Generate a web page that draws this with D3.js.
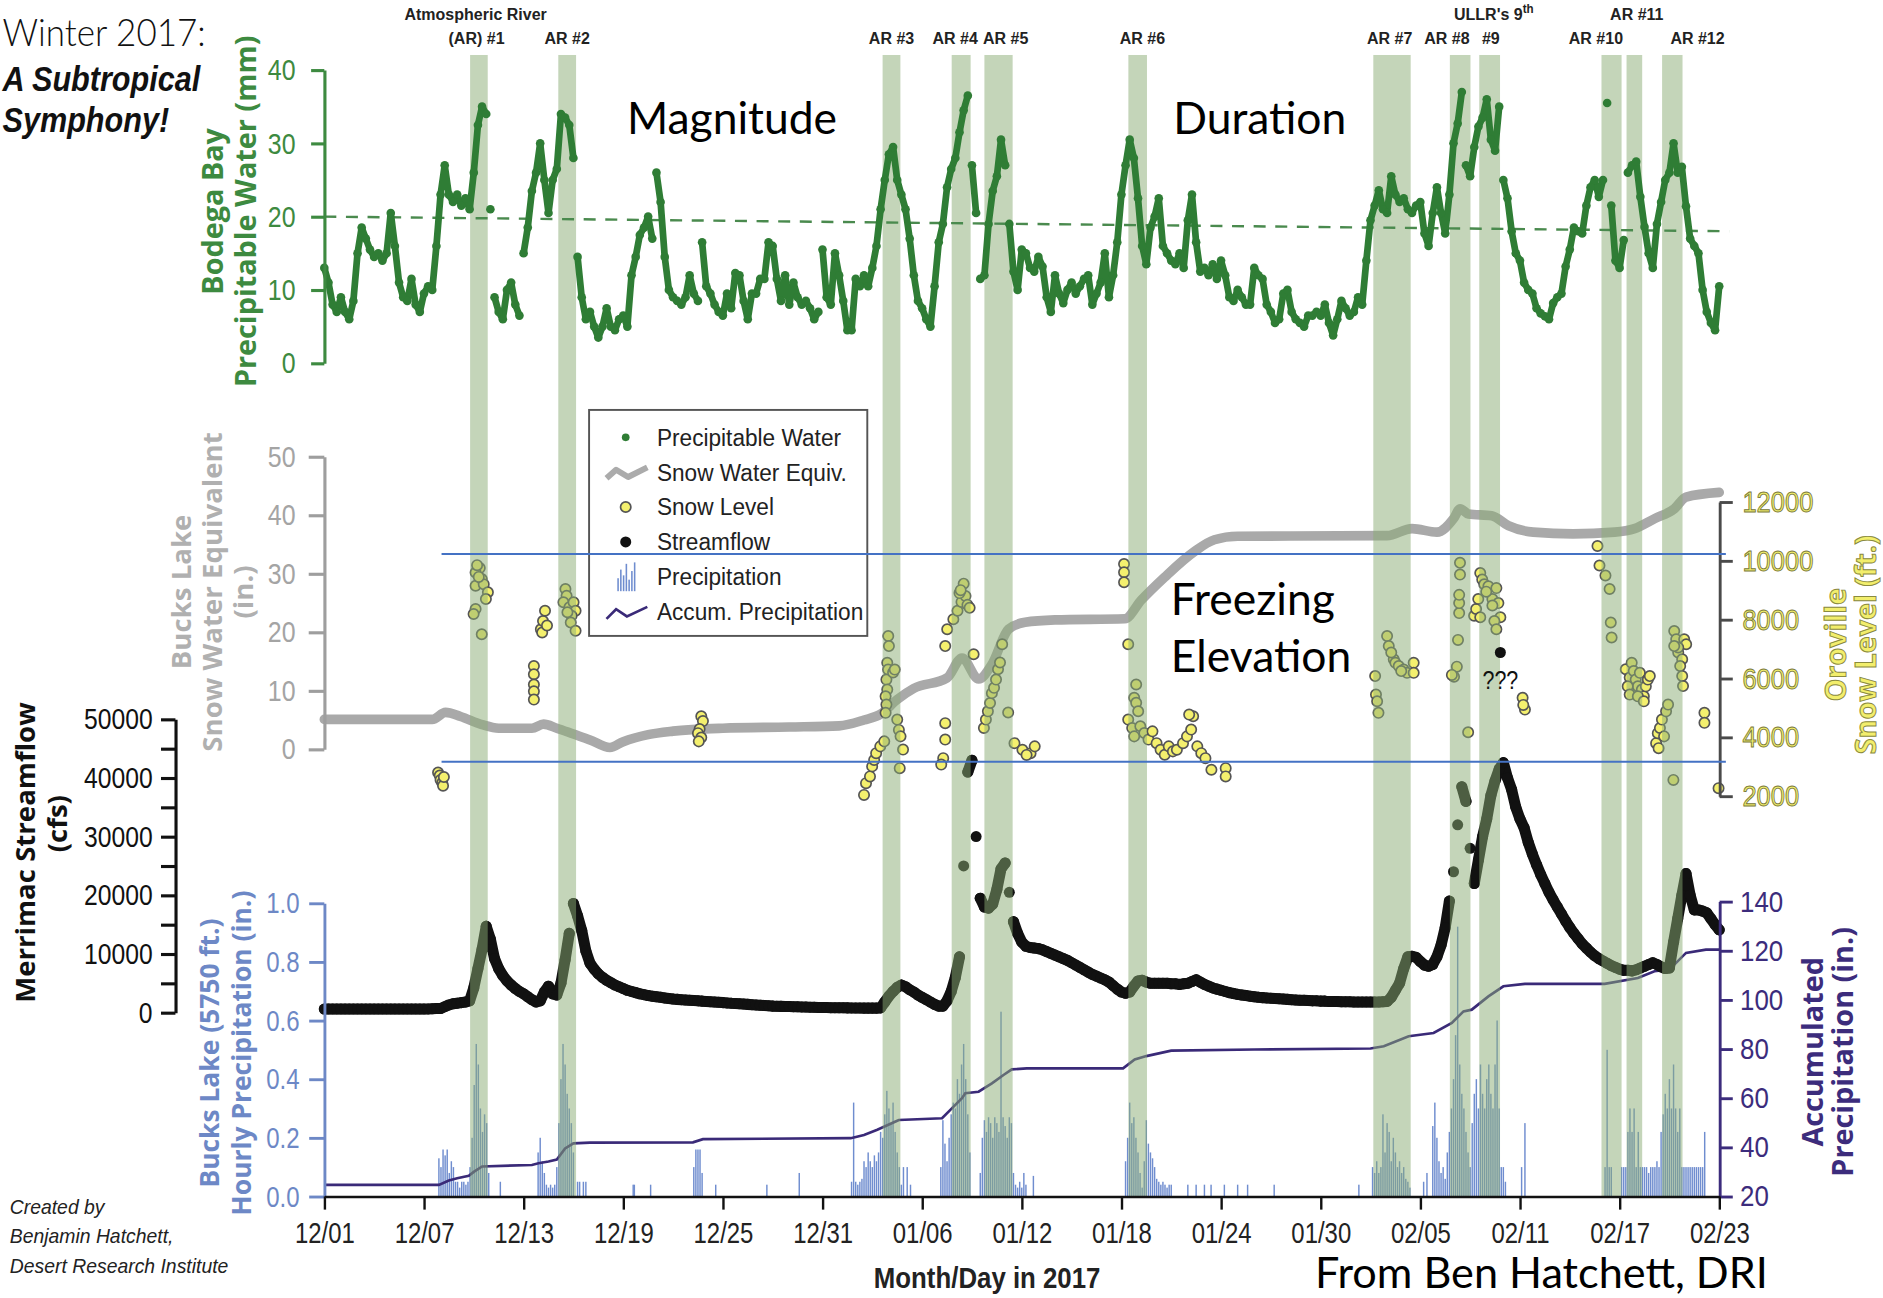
<!DOCTYPE html>
<html>
<head>
<meta charset="utf-8">
<script src="https://cdn.jsdelivr.net/npm/d3@7"></script>
<style>
  html, body { margin: 0; padding: 0; background: #fff; }
  svg { display: block; }
</style>
</head>
<body>
<svg id="chart" width="1883" height="1298" viewBox="0 0 1568 1081"></svg>
<script>
// ================= DATA =================
// x-axis tick labels (month/day, winter 2016-17)
const tickLabels = ["12/01","12/07","12/13","12/19","12/25","12/31","01/06","01/12",
                    "01/18","01/24","01/30","02/05","02/11","02/17","02/23"];

// Atmospheric river periods, in days since 12/01 00:00
const arNames  = ["(AR) #1","AR #2","AR #3","AR #4","AR #5","AR #6","AR #7","AR #8","#9","AR #10","AR #11","AR #12"];
const arStart  = [8.78, 14.09, 33.62, 37.78, 39.75, 48.42, 63.17, 67.78, 69.55, 76.91, 78.42, 80.56];
const arEnd    = [9.84, 15.16, 34.69, 38.92, 41.45, 49.54, 65.42, 69.02, 70.80, 78.12, 79.36, 81.79];

// Bodega Bay precipitable water (mm), 6-hourly from 12/01 00:00
const pwStepHours = 6;
const pwMm = [
  13,11,8,7,        9,7,6,8.5,        15,18.5,17,15.5,  14.5,15,14,15,
  20.5,16,11,9,     8.5,11.5,8,7,     9.5,10.5,10,16,   23,27,23,22,
  23,21.5,22.5,21,  26,32.5,35,34,    21,9,7,6,         10,11,8,6.5,
  15,18.5,23.5,26,  30,25,20.5,25,    26.5,34,33.5,32.5,28,14.5,9,6,
  7,5,3.5,5,        7.5,5,4.5,6,      6.5,5,12,14.5,    17.5,18.5,20,17,
  26,22,14.5,10,    9,8.5,8,9,        12,9.5,8.5,16.5,  10.5,9.5,8,7,
  6.5,9.5,7.5,12.3, 12,8.5,6,9.5,     9.5,11.5,11.5,16.5,16,11.5,8.5,12,
  8,11,9,8,         8.5,7.5,6,7,      15.5,9,8,15,      12,8.5,4.5,4.5,
  11.5,10.5,12,10.5,13,16,21,25,      28.5,29.5,25,23,  21,17,12,8.5,
  7.5,6,5,10.5,     16.5,19,24,26.5,  28,31.5,34.5,36.5,27,20.5,11.5,12,
  19,23.5,25.5,30.5,27,19,12.5,10,    15.5,15,13,12.5,  14.5,13.2,9,7,
  12,9.5,8.2,10,    11,9.5,10.5,11.5, 12,8,9.5,11,      15,9,12,16.5,
  23,27,30.5,28,    22.5,16,13.5,18.5,20,22.5,16,15,    14,13.5,15,13,
  19.5,23,16.5,12.5,13,12,13.5,11.5,  14,12,9,8.5,      10,9,8,8,
  13,12,11.5,8,     7,5.5,6,9.5,      10,7,6,5.5,       5,6.5,6.5,7,
  6.5,8,5.5,3.8,    6,8.5,7.5,6.5,    7,9,8,14,         19.5,21.5,23.6,21,
  20.5,25.5,23,22,  22.5,21,20.5,21.5,22,17.7,16,20.5,  24,20.5,17.7,23,
  30,32.7,37,27,    25.5,29.5,32.3,33.5,36,30.5,29,35,  25,22.5,18,15,
  14,11,10,9.5,     7.5,6.8,6.4,6,    8.2,9,9.5,13.2,   15.5,18.5,18,17.7,
  21.5,24,25,22.7,  25,35.5,21.5,14,  13,16.8,26,27,    27.5,22.7,18.6,15,
  13,19,22,25,      26,30,26,26.8,    21.4,17,16,15,    10,7,5.5,4.5,
  10.5
];
// linear trend of precipitable water [day, mm]
const pwTrend = [[0, 20.0], [84.6, 18.0]];

// Bucks Lake snow water equivalent (in.), [day, inches]
const sweIn = [
  [0,5.1],[6.5,5.1],[7.3,6.3],[8.2,5.6],[9.5,4.2],[10.5,3.6],[12.5,3.6],[13.2,4.3],[14,3.6],
  [15,2.6],[16,1.6],[17.2,0.3],[18,1.3],[19.5,2.5],[21,3.1],[24,3.6],[28,3.8],[31,4.0],
  [32.5,5.0],[33.5,6.0],[34.5,8.5],[35.5,10.4],[37.5,12.2],[38.4,15.6],[39.4,12.0],[40.2,14.5],
  [41.2,20.5],[42.2,21.7],[44,22.1],[48.2,22.3],[49.2,25.5],[50.6,29.4],[52.4,33.8],[53.6,35.8],
  [55,36.4],[64,36.5],[65.5,37.7],[67,37.1],[68,39.4],[68.4,41.1],[68.9,40.2],[70.3,39.9],
  [71.3,38.2],[72.8,37.1],[75.2,36.8],[77.7,37.1],[78.9,37.7],[80.1,39.4],[81.3,41.1],
  [82,43.1],[84,43.9]
];

// Oroville snow level (ft), [day, feet]
const snowLevelFt = [
  [6.85,2800],[6.95,2700],[7.0,2550],[7.1,2450],[7.15,2350],[7.2,2650],
  [9.36,9750],[9.11,9600],[9.11,9150],[9.48,9380],[9.6,9200],[9.85,8930],[9.73,8700],
  [9.11,8360],[8.99,8190],[9.48,7500],[9.3,9450],[9.2,9850],
  [12.62,6420],[12.62,6140],[12.62,5790],[12.62,5560],[12.62,5280],
  [13.04,7670],[13.17,7950],[13.29,8300],[13.12,7560],[13.41,7800],
  [14.52,9040],[14.59,8810],[14.4,8590],[14.76,8420],[15.01,8590],[15.13,8300],
  [14.89,8130],[14.84,7900],[15.13,7620],[14.64,8250],
  [22.7,4710],[22.8,4550],[22.6,4280],[22.5,4140],[22.7,3990],[22.55,3860],
  [32.5,2040],[32.62,2440],[32.86,2670],[32.99,3010],[33.11,3230],[33.23,3460],[33.48,3690],[33.72,3860],
  [33.96,7440],[34.0,7100],[33.9,6530],[33.95,6300],[33.85,5960],[33.9,5620],[33.8,5390],[33.85,5110],
  [33.8,4830],[34.25,6200],[34.35,6300],
  [34.5,4600],[34.6,4250],[34.7,4030],[34.85,3580],[34.65,2950],
  [37.39,7100],[37.51,7670],[37.88,8010],[38.13,8300],[38.37,8600],[38.5,9220],[38.61,8800],
  [38.73,8500],[38.86,8400],[38.25,8900],[38.32,9000],
  [37.39,4480],[37.39,3920],[37.27,3290],[37.15,3070],[39.1,6820],
  [39.72,4315],[39.84,4600],[39.96,4880],[40.09,5165],[40.2,5500],[40.33,5680],[40.45,5960],
  [40.57,6310],[40.69,6540],[40.82,7160],[41.18,4840],
  [41.56,3800],[42.04,3575],[42.53,3460],[42.78,3690],[42.29,3400],
  [48.16,9890],[48.16,9610],[48.16,9270],[48.41,7160],
  [48.89,5795],[48.77,5340],[48.89,5170],[49.01,4885],[48.41,4600],[48.65,4315],[48.77,4030],
  [49.14,4375],[49.38,4145],[49.63,3920],[49.87,4200],[50.12,3800],[50.36,3575],[50.61,3405],
  [50.85,3690],[51.1,3520],[51.34,3575],[51.71,3800],[51.95,4030],[52.2,4260],[52.32,4715],
  [52.08,4770],[52.57,3690],[52.81,3460],[53.06,3290],[53.42,2895],[54.28,2950],[54.28,2670],
  [63.28,6080],[63.33,5455],[63.4,5225],[63.48,4830],[64.0,7440],[64.1,7100],[64.4,6650],
  [64.5,6530],[64.7,6420],[65.0,6300],[65.2,6190],[65.6,6530],[65.6,6190],[64.25,6880],[64.85,6250],
  [68.03,6060],[68.2,6400],[68.27,7310],[68.34,8220],[68.34,8560],[68.34,8840],[68.39,9530],
  [68.39,9930],[68.88,4170],[67.9,6120],
  [69.24,8130],[69.36,8360],[69.49,8700],[69.61,9580],[69.73,9360],[69.85,9200],[70.1,9130],
  [69.61,8080],[70.34,8700],[70.58,9070],[70.7,8560],[70.82,8080],[70.46,7950],[70.58,7670],
  [70.34,8480],[69.97,8950],
  [72.16,5340],[72.3,4940],[72.2,5100],
  [76.67,10500],[76.79,9840],[77.15,9500],[77.4,9040],[77.47,7900],[77.52,7390],
  [78.37,6310],[78.61,6030],[78.73,6530],[78.85,6250],[78.97,5960],[79.1,5730],[79.22,6190],
  [79.34,5620],[79.46,5390],[79.58,5730],[79.7,5960],[79.82,6080],[78.49,5730],[78.61,5450],
  [79.1,5390],[79.46,5220],
  [80.2,3800],[80.3,4140],[80.43,4315],[80.55,4600],[80.8,4880],[80.92,5110],[80.68,4030],[80.35,3630],
  [81.29,7610],[81.41,7330],[81.89,7330],[82.01,7160],[81.53,6880],[81.77,6650],[81.65,6420],
  [81.77,6080],[81.82,5740],[81.53,7050],[81.29,7100],
  [81.24,2550],[83.11,4830],[83.11,4490],[83.96,2270]
];
// the unexplained reading marked "???" [day, feet]
const oddReading = [70.82, 6880];
// reference snow-level lines (ft) and the days they span
const refLevelsFt = [10230, 3170];
const refLevelSpan = [7.06, 84.4];

// Merrimac streamflow (cfs), 6-hourly from 12/01 00:00
const flowStepHours = 6;
const flowCfs = [
  600,600,600,600,  600,600,600,600,  600,600,600,600,  600,600,600,600,
  600,600,600,600,  600,600,600,600,  600,620,650,680,  700,1000,1300,1500,
  1600,1700,1800,2000, 4200,7500,10800,14700, 12500,9200,7500,6300, 5400,4700,4100,3600,
  3200,2700,2200,1800, 2000,3500,4500,3200, 3000,5000,9000,13500, 18600,16500,14000,10500,
  8400,7400,6600,6000, 5500,5100,4700,4400, 4100,3800,3600,3400, 3200,3050,2900,2800,
  2700,2600,2500,2400, 2300,2250,2200,2150, 2100,2050,2000,1950, 1900,1850,1800,1750,
  1700,1650,1600,1550, 1500,1450,1400,1350, 1300,1250,1200,1150, 1100,1080,1060,1040,
  1020,1000,980,960,   940,920,900,880,     860,850,840,830,     820,810,800,790,
  780,770,760,760,     760,760,800,1800,    2800,3600,4300,4700, 4400,3900,3500,3000,
  2600,2200,1800,1400, 1100,1100,2000,3600, 6000,9500,25000,41000, 43000,30000,19500,18000,
  17800,18500,21000,24500, 25500,20500,15500,13500, 12000,11300,11100,11000, 10900,10700,10400,10100,
  9800,9500,9200,8900, 8500,8100,7700,7300, 6900,6500,6200,5900, 5600,5200,4600,4000,
  3500,3300,3500,4500, 5400,5500,5200,5000, 5000,5000,5000,5000, 4900,4900,4800,4900,
  5000,5300,5600,5200, 4800,4500,4200,4000, 3800,3600,3400,3250, 3100,3000,2900,2800,
  2700,2600,2550,2500, 2450,2400,2350,2300, 2250,2200,2150,2100, 2100,2050,2000,2000,
  1950,1950,1900,1900, 1900,1850,1850,1850, 1800,1800,1800,1800, 1800,1800,1800,1850,
  1900,2600,3800,5000, 7500,9500,9600,9400, 8700,8100,7900,8200, 9500,11500,14500,19000,
  24000,32000,38500,36000, 28000,22000,26000,30000, 33000,37000,39500,41500, 42600,40000,38000,35000,
  33000,31500,29000,27000, 25200,23500,22000,20500, 19200,18000,16800,15600, 14500,13500,12600,11700,
  11000,10300,9700,9200, 8800,8400,8000,7700, 7400,7200,7200,7100, 7300,7600,7900,8200,
  8500,8200,7800,7500, 7600,12000,16000,20000, 23700,20000,17500,17500, 17300,17000,16000,15000,
  14100
];

// Bucks Lake hourly precipitation (in.): storm segments, 3-hourly values from a start day
const precipStepHours = 3;
const precipSegments = [
  { start: 6.9,   values: [0.13,0.10,0.16,0.14,0.16,0.08,0.12,0.10,0.05,0.05,0.03,0.05,0.05,0.04,0.05,
                           0.10,0.20,0.38,0.52,0.45,0.30,0.22,0.28,0.25,0.08] },
  { start: 12.875,values: [0.15,0.20,0.12,0.08,0.04,0.03,0.04,0.03,0.04,0.10,0.25,0.40,0.52,0.45,0.35,
                           0.30,0.25,0.15,0,0.05,0.05] },
  { start: 22.25, values: [0.10,0.16,0.16,0.16,0.08] },
  { start: 31.75, values: [0.05,0.32,0.05,0.04,0.05,0.06,0.12,0.10,0.15,0.12,0.10,0.14,0.12,0.15,0.22,
                           0.20,0.28,0.36,0.30,0.25,0.32,0.22,0.15,0.10,0.04,0.10] },
  { start: 37.125,values: [0.10,0.26,0.18,0.12,0.20,0.28,0.32,0.30,0.40,0.35,0.45,0.52,0.40,0.28,0.15] },
  { start: 39.5,  values: [0.08,0.20,0.26,0.22,0.27,0.25,0.20,0.27,0.25,0.22,0.63,0.27,0.24,0.20,0.27,
                           0.25,0.08,0.04,0.03,0.05,0.03,0.08,0.04] },
  { start: 48.25, values: [0.12,0.20,0.32,0.25,0.27,0.20,0.15,0.08,0.03,0.12,0.26,0.18,0.15,0.13,0.10,
                           0.06,0.05,0.04,0.05,0.04,0.03,0.04,0.04] },
  { start: 63.125,values: [0.10,0.08,0.12,0.08,0.10,0.28,0.15,0.25,0.22,0.12,0.20,0.15,0.10,0.12,0.08,
                           0.10,0.06,0.05,0.03] },
  { start: 66.75, values: [0.24,0.32,0.20,0.12,0.08,0.10,0.06,0.15,0.22,0.30,0.40,0.55,0.92,0.45,0.35,
                           0.30,0.22,0.15,0.10,0.25,0.35,0.40,0.30,0.45,0.35,0.30,0.40,0.45,0.35,0.30,
                           0.45,0.60,0.30,0.10,0.10,0.05] },
  { start: 77.125,values: [0.10,0.50,0.10,0.10,0,0,0,0,0.10,0.10,0.10,0.22,0.30,0.22,0.30,0.10,0.22,
                           0.10,0.10,0.10,0.10,0.08,0.10,0.10,0.10,0.12,0.10,0.22,0.28,0.35,0.30,0.40,
                           0.30,0.45,0.30,0.22,0.30,0.10,0.10,0.10,0.10,0.10,0.10,0.10,0.10,0.10,0.10,
                           0.10,0.22] }
];
// isolated light-rain hours [day, inches]
const precipSingles = [
  [10.6,0.05],[15.6,0.05],[15.75,0.05],[18.6,0.04],[18.67,0.04],[19.65,0.04],[23.57,0.04],
  [26.65,0.04],[28.6,0.08],[35.1,0.10],[35.3,0.04],[42.7,0.07],[52,0.04],[52.5,0.04],[53,0.04],
  [53.4,0.04],[54.2,0.04],[55,0.04],[55.6,0.04],[57.2,0.04],[62.3,0.04],[66.2,0.05],[66.4,0.08],
  [72.1,0.10],[72.3,0.25]
];

// Accumulated precipitation (in.), [day, inches]
const accumIn = [
  [0,24.7],[6.9,24.7],[7.5,26.5],[8.0,27.4],[8.7,28.4],[9.0,30],[9.5,32.2],[12.5,32.8],[12.9,33.5],
  [13.5,34.2],[14.0,35],[14.5,39.5],[15.0,41.6],[16,41.9],[22.2,42],[22.8,43.3],[31.7,43.7],
  [32.5,45],[33.3,47.1],[34.4,50.5],[34.6,51.1],[37.2,51.8],[37.7,55.2],[38.4,60],[38.6,62.0],
  [39.4,62.6],[40.2,66],[40.9,69.4],[41.4,71.7],[42.3,72.1],[48.1,72.1],[48.8,75.7],[49.5,77.1],
  [51,79.3],[56,79.8],[63.0,80.2],[63.8,81.1],[65.3,85.2],[66.8,86.5],[67.9,90.6],[68.6,95.3],
  [69.1,96.0],[70.1,101.4],[71.0,105.5],[72.3,106.5],[77.1,106.5],[79.1,108.9],[80.1,111.6],
  [81.0,112.3],[82.0,119.1],[83.2,120.4],[84,120.4]
];

// axis tick values
const pwTicks    = [0, 10, 20, 30, 40];
const sweTicks   = [0, 10, 20, 30, 40, 50];
const levelTicks = [2000, 4000, 6000, 8000, 10000, 12000];
const flowTicks  = [0, 5000, 10000, 15000, 20000, 25000, 30000, 35000, 40000, 45000, 50000];
const precipTicks= [0, 0.2, 0.4, 0.6, 0.8, 1.0];
const accumTicks = [20, 40, 60, 80, 100, 120, 140];

const legendLabels = ["Precipitable Water","Snow Water Equiv.","Snow Level","Streamflow","Precipitation","Accum. Precipitation"];

// ================= HELPERS =================
const DAY_MS = 864e5;
const T0 = Date.UTC(2016, 11, 1);
const dayToDate = d => new Date(T0 + d * DAY_MS);
const parseTick = s => {
  const [m, dd] = s.split("/").map(Number);
  return new Date(Date.UTC(m === 12 ? 2016 : 2017, m - 1, dd));
};
const tickDates = tickLabels.map(parseTick);

const ARIAL  = "'Liberation Sans',Arial,sans-serif";
const SANS   = "'Open Sans','Noto Sans','DejaVu Sans',sans-serif";
const HUMAN  = "Lato,'Open Sans',sans-serif";

// squeeze text horizontally around its anchor to mimic a condensed face
function condense(sel, k) {
  sel.each(function () {
    const t = d3.select(this);
    const tx = +t.attr("x") || 0;
    t.attr("x", 0).attr("transform", `translate(${tx},0) scale(${k},1)`);
  });
  return sel;
}

// ================= SCALES =================
const x      = d3.scaleUtc().domain([tickDates[0], tickDates[tickDates.length - 1]]).range([270, 1431.7]);
const yPW    = d3.scaleLinear().domain([0, 40]).range([302.5, 58.3]);
const ySWE   = d3.scaleLinear().domain([0, 50]).range([624, 380.3]);
const yLevel = d3.scaleLinear().domain([2000, 12000]).range([663, 418]);
const yFlow  = d3.scaleLinear().domain([0, 50000]).range([843.3, 599]);
const yPrec  = d3.scaleLinear().domain([0, 1]).range([996.4, 752.2]);
const yAccum = d3.scaleLinear().domain([20, 140]).range([996.4, 750.8]);

const svg = d3.select("#chart");
svg.append("rect").attr("width", 1568).attr("height", 1081).attr("fill", "#fff");

// joins neighbouring samples whose vertical step is small, so dense series read as a trace
function beadPath(pts, fx, fy, maxStep) {
  let d = "";
  for (let i = 1; i < pts.length; i++) {
    const x0 = fx(pts[i - 1]), y0 = fy(pts[i - 1]), x1 = fx(pts[i]), y1 = fy(pts[i]);
    if (Math.abs(y1 - y0) <= maxStep) d += `M${x0},${y0}L${x1},${y1}`;
  }
  return d;
}

// ================= PRECIPITATION BARS =================
const bars = [];
precipSegments.forEach(seg => seg.values.forEach((v, i) => {
  if (v > 0) bars.push({ t: dayToDate(seg.start + i * precipStepHours / 24), v });
}));
precipSingles.forEach(([d, v]) => bars.push({ t: dayToDate(d), v }));
svg.append("g").selectAll("rect").data(bars).join("rect")
  .attr("x", d => x(d.t) - 0.6).attr("width", 1.2)
  .attr("y", d => yPrec(d.v)).attr("height", d => yPrec(0) - yPrec(d.v))
  .attr("fill", "#6f8dcf");

// ================= ACCUMULATED PRECIPITATION =================
svg.append("path").datum(accumIn)
  .attr("d", d3.line().x(d => x(dayToDate(d[0]))).y(d => yAccum(d[1])))
  .attr("fill", "none").attr("stroke", "#3a2a78").attr("stroke-width", 2.2);

// ================= SNOW WATER EQUIVALENT =================
svg.append("path").datum(sweIn)
  .attr("d", d3.line().curve(d3.curveMonotoneX).x(d => x(dayToDate(d[0]))).y(d => ySWE(d[1])))
  .attr("fill", "none").attr("stroke", "#a9a9a9").attr("stroke-width", 8)
  .attr("stroke-linejoin", "round").attr("stroke-linecap", "round");

// ================= SNOW LEVEL =================
svg.append("g").selectAll("circle").data(snowLevelFt).join("circle")
  .attr("cx", d => x(dayToDate(d[0]))).attr("cy", d => yLevel(d[1])).attr("r", 4.3)
  .attr("fill", "#f4f06e").attr("stroke", "#555").attr("stroke-width", 1.4);

// ================= STREAMFLOW =================
const flowPts = flowCfs.map((v, i) => ({ t: new Date(T0 + i * flowStepHours * 3600e3), v }));
svg.append("path").attr("d", beadPath(flowPts, d => x(d.t), d => yFlow(d.v), 24))
  .attr("fill", "none").attr("stroke", "#111").attr("stroke-width", 9.2).attr("stroke-linecap", "round");
svg.append("g").selectAll("circle").data(flowPts).join("circle")
  .attr("cx", d => x(d.t)).attr("cy", d => yFlow(d.v)).attr("r", 4.6).attr("fill", "#111");

// ================= AR BANDS =================
const bandTop = 45.8;
svg.append("g").selectAll("rect").data(arStart.map((s, i) => ({ s, e: arEnd[i] }))).join("rect")
  .attr("x", d => x(dayToDate(d.s))).attr("width", d => x(dayToDate(d.e)) - x(dayToDate(d.s)))
  .attr("y", bandTop).attr("height", yPrec(0) - bandTop)
  .attr("fill", "rgb(138,172,116)").attr("fill-opacity", 0.5);

// ================= PRECIPITABLE WATER =================
svg.append("line")
  .attr("x1", x(dayToDate(pwTrend[0][0]))).attr("y1", yPW(pwTrend[0][1]))
  .attr("x2", x(dayToDate(pwTrend[1][0]))).attr("y2", yPW(pwTrend[1][1]))
  .attr("stroke", "#4a8a4e").attr("stroke-width", 2).attr("stroke-dasharray", "10 8");
const pwPts = pwMm.map((v, i) => ({ t: new Date(T0 + i * pwStepHours * 3600e3), v }));
svg.append("path").attr("d", beadPath(pwPts, d => x(d.t), d => yPW(d.v), 48))
  .attr("fill", "none").attr("stroke", "#2f7d35").attr("stroke-width", 5.6)
  .attr("stroke-linecap", "round").attr("stroke-linejoin", "round");
svg.append("g").selectAll("circle").data(pwPts).join("circle")
  .attr("cx", d => x(d.t)).attr("cy", d => yPW(d.v)).attr("r", 3.6).attr("fill", "#2f7d35");

// ================= AXES =================
function styleAxis(g, lineColor, textColor, size, width, squeeze) {
  g.attr("font-family", null).attr("font-size", null);
  g.select(".domain").attr("stroke", lineColor).attr("stroke-width", width);
  g.selectAll(".tick line").attr("stroke", lineColor).attr("stroke-width", width);
  const txt = g.selectAll(".tick text").attr("fill", textColor)
    .style("font-family", ARIAL).style("font-size", size + "px");
  condense(txt, squeeze || 0.83);
  return g;
}
// precipitable water
styleAxis(svg.append("g").attr("transform", "translate(270,0)")
  .call(d3.axisLeft(yPW).tickValues(pwTicks).tickSize(11).tickSizeOuter(0).tickPadding(13)),
  "#3d8a40", "#3d8a40", 25, 2.6);
// snow water equivalent
styleAxis(svg.append("g").attr("transform", "translate(270,0)")
  .call(d3.axisLeft(ySWE).tickValues(sweTicks).tickSize(13).tickSizeOuter(0).tickPadding(11)),
  "#9e9e9e", "#a4a4a4", 25, 2.6);
// snow level (right)
const gLevel = styleAxis(svg.append("g").attr("transform", "translate(1432,0)")
  .call(d3.axisRight(yLevel).tickValues(levelTicks).tickFormat(d3.format("d"))
    .tickSize(11).tickSizeOuter(0).tickPadding(8)),
  "#4a4a4a", "#f2ee6c", 25, 2.4, 0.85);
gLevel.selectAll(".tick text").attr("stroke", "#77773a").attr("stroke-width", 0.8);
// streamflow
styleAxis(svg.append("g").attr("transform", "translate(146,0)")
  .call(d3.axisLeft(yFlow).tickValues(flowTicks).tickFormat(d => d % 10000 === 0 ? d3.format("d")(d) : "")
    .tickSize(12).tickSizeOuter(0).tickPadding(7)),
  "#111", "#111", 24.5, 2.6, 0.84);
// hourly precipitation
styleAxis(svg.append("g").attr("transform", "translate(270,0)")
  .call(d3.axisLeft(yPrec).tickValues(precipTicks).tickFormat(d3.format(".1f"))
    .tickSize(12.6).tickSizeOuter(0).tickPadding(8)),
  "#6d88c6", "#6d88c6", 25, 2.4, 0.8);
// accumulated precipitation (right)
styleAxis(svg.append("g").attr("transform", "translate(1432,0)")
  .call(d3.axisRight(yAccum).tickValues(accumTicks).tickSize(11).tickSizeOuter(0).tickPadding(6)),
  "#3c2c7c", "#3c2c7c", 24.5, 2.4, 0.88);
// time axis
styleAxis(svg.append("g").attr("transform", `translate(0,${yPrec(0)})`)
  .call(d3.axisBottom(x).tickValues(tickDates).tickFormat((d, i) => tickLabels[i])
    .tickSize(11).tickSizeOuter(0).tickPadding(11)),
  "#111", "#222", 24, 2, 0.83);

// ================= AXIS TITLES =================
function vTitle(lines, cy, color, size, extra) {
  lines.forEach(([txt, bx]) => {
    const t = svg.append("text").attr("transform", `translate(${bx},${cy}) rotate(-90)`)
      .attr("text-anchor", "middle").attr("fill", color)
      .style("font-family", SANS).style("font-weight", "bold").style("font-size", size + "px")
      .text(txt);
    if (extra) extra(t);
  });
}
vTitle([["Bodega Bay", 186], ["Precipitable Water (mm)", 213]], 176, "#3d8a40", 24);
vTitle([["Bucks Lake", 159], ["Snow Water Equivalent", 185], ["(in.)", 211]], 493, "#b0b0b0", 23);
vTitle([["Oroville", 1537], ["Snow Level (ft.)", 1562]], 537, "#f2ee6c", 24,
  t => t.attr("stroke", "#8a8a40").attr("stroke-width", 0.8));
vTitle([["Merrimac Streamflow", 29]], 710, "#111", 23);
vTitle([["(cfs)", 56]], 686, "#111", 23);
vTitle([["Bucks Lake (5750 ft.)", 182], ["Hourly Precipitation (in.)", 209]], 877, "#6d88c6", 22);
vTitle([["Accumulated", 1518], ["Precipitation (in.)", 1543]], 876, "#3c2c7c", 24);

condense(svg.append("text").attr("x", 822).attr("y", 1073).attr("text-anchor", "middle")
  .attr("fill", "#222").style("font-family", ARIAL).style("font-weight", "bold").style("font-size", "25px")
  .text("Month/Day in 2017"), 0.86);

// ================= AR LABELS =================
const labelNudge = [-2, 0, 0, -5, 6, 4, -2, -11, 1, -13, 2, 21];
const labelRow   = [37, 37, 37, 37, 37, 37, 37, 37, 37, 37, 17, 37];
function arText(txt, lx, ly) {
  return svg.append("text").attr("x", lx).attr("y", ly).attr("text-anchor", "middle")
    .attr("fill", "#222").style("font-family", ARIAL).style("font-weight", "bold").style("font-size", "14.5px")
    .text(txt);
}
arNames.forEach((name, i) => {
  const cx = (x(dayToDate(arStart[i])) + x(dayToDate(arEnd[i]))) / 2 + labelNudge[i];
  condense(arText(name, cx, labelRow[i]), 0.92);
});
condense(arText("Atmospheric River", 396, 17), 0.92);
const ullr = arText("", 1244, 17);
ullr.append("tspan").text("ULLR's 9");
ullr.append("tspan").attr("dy", -6).style("font-size", "10.5px").text("th");
condense(ullr, 0.92);

// ================= LEGEND =================
const lg = svg.append("g");
lg.append("rect").attr("x", 490.5).attr("y", 341.4).attr("width", 231.7).attr("height", 188.2)
  .attr("fill", "#fff").attr("stroke", "#555").attr("stroke-width", 1.6);
const rowY = i => 364.2 + i * 29.04;
condense(lg.selectAll("text").data(legendLabels).join("text")
  .attr("x", 547).attr("y", (d, i) => rowY(i) + 7)
  .attr("fill", "#222").style("font-family", ARIAL).style("font-size", "20.5px").text(d => d), 0.92);
lg.append("circle").attr("cx", 521).attr("cy", rowY(0)).attr("r", 3.2).attr("fill", "#2f7d35");
lg.append("path").attr("d", `M505,${rowY(1) + 5} L513,${rowY(1) - 2} L523,${rowY(1) + 4} L539,${rowY(1) - 4}`)
  .attr("fill", "none").attr("stroke", "#ababab").attr("stroke-width", 5).attr("stroke-linejoin", "round");
lg.append("circle").attr("cx", 521).attr("cy", rowY(2)).attr("r", 4.3)
  .attr("fill", "#f4f06e").attr("stroke", "#555").attr("stroke-width", 1.4);
lg.append("circle").attr("cx", 521).attr("cy", rowY(3)).attr("r", 4.6).attr("fill", "#111");
[0.45, 0.75, 0.55, 0.95, 0.4, 0.7, 1.0].forEach((h, i) => {
  lg.append("rect").attr("x", 514 + i * 2.3).attr("width", 1.3)
    .attr("y", rowY(4) + 12 - 24 * h).attr("height", 24 * h).attr("fill", "#6f8dcf");
});
lg.append("path").attr("d", `M505,${rowY(5) + 6} L513,${rowY(5) - 2} L522,${rowY(5) + 4} L539,${rowY(5) - 4}`)
  .attr("fill", "none").attr("stroke", "#3a2a78").attr("stroke-width", 2.2);

// reference snow-level lines
refLevelsFt.forEach(ft => {
  svg.append("line").attr("x1", x(dayToDate(refLevelSpan[0]))).attr("x2", x(dayToDate(refLevelSpan[1])))
    .attr("y1", yLevel(ft)).attr("y2", yLevel(ft)).attr("stroke", "#4472c4").attr("stroke-width", 1.6);
});

// ================= ANNOTATIONS =================
svg.append("circle").attr("cx", x(dayToDate(oddReading[0]))).attr("cy", yLevel(oddReading[1]))
  .attr("r", 4.6).attr("fill", "#111");
condense(svg.append("text").attr("x", x(dayToDate(oddReading[0]))).attr("y", 574).attr("text-anchor", "middle")
  .attr("fill", "#111").style("font-family", ARIAL).style("font-size", "21px").text("???"), 0.85);

function note(txt, nx, ny, size) {
  svg.append("text").attr("x", nx).attr("y", ny)
    .attr("fill", "#000").style("font-family", HUMAN).style("font-size", size + "px").text(txt);
}
note("Magnitude", 522, 112, 37);
note("Duration", 977, 112, 37);
note("Freezing", 975, 512, 37);
note("Elevation", 975, 560, 37);
note("From Ben Hatchett, DRI", 1095, 1073, 36);

// title block
condense(svg.append("text").attr("x", 2).attr("y", 38).attr("fill", "#111")
  .style("font-family", HUMAN).style("font-weight", 300).style("font-size", "31px").text("Winter 2017:"), 0.94);
["A Subtropical", "Symphony!"].forEach((s, i) => {
  condense(svg.append("text").attr("x", 2).attr("y", 76 + i * 34).attr("fill", "#111")
    .style("font-family", ARIAL).style("font-weight", "bold").style("font-style", "italic")
    .style("font-size", "30px").text(s), 0.85);
});

["Created by", "Benjamin Hatchett,", "Desert Research Institute"].forEach((s, i) => {
  condense(svg.append("text").attr("x", 8).attr("y", 1011 + i * 24.5).attr("fill", "#222")
    .style("font-family", ARIAL).style("font-style", "italic").style("font-size", "17px").text(s), 0.95);
});
</script>
</body>
</html>
